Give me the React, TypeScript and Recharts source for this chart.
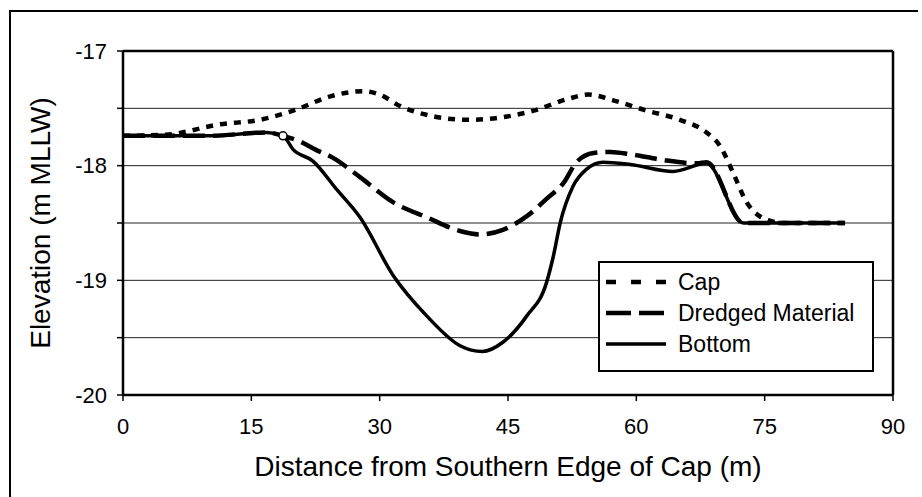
import {
  CartesianGrid,
  Legend,
  Line,
  LineChart,
  ReferenceDot,
  ReferenceLine,
  XAxis,
  YAxis,
} from "recharts";

// distance from southern edge of cap (m)
const capX = [0, 5, 11.3, 16, 19.9, 24.5, 28.1, 30, 32.4, 36.3, 40.2, 44.1, 48, 51.9, 54.4, 57.3, 61.2, 65.1, 68.2, 69.8, 71.3, 72.9, 74.4, 75.6, 77, 84.4];
const capY = [-17.74, -17.73, -17.64, -17.6, -17.52, -17.39, -17.35, -17.38, -17.48, -17.57, -17.6, -17.58, -17.52, -17.42, -17.38, -17.43, -17.52, -17.6, -17.71, -17.83, -18.06, -18.32, -18.44, -18.48, -18.5, -18.5];

const dredgedX = [0, 10, 16.8, 18.7, 20.7, 22.5, 24.5, 27.7, 31.6, 35.5, 39.4, 41.7, 44.4, 47.2, 49.5, 51.5, 53, 55, 57, 59.3, 63.1, 67.1, 68.2, 72.5, 84.4];
const dredgedY = [-17.74, -17.74, -17.71, -17.74, -17.79, -17.86, -17.93, -18.1, -18.32, -18.45, -18.57, -18.6, -18.56, -18.44, -18.29, -18.15, -17.97, -17.89, -17.88, -17.9, -17.95, -17.98, -17.97, -18.5, -18.5];

const bottomX = [0, 10, 16.8, 18.7, 19.9, 22.2, 25, 27.7, 31.6, 35.5, 39.4, 42, 44.4, 47.2, 49.5, 50.3, 51.1, 52.6, 54.2, 56.1, 59.3, 64.3, 68.2, 72.5, 84.4];
const bottomY = [-17.74, -17.74, -17.71, -17.74, -17.86, -17.96, -18.21, -18.45, -18.96, -19.31, -19.57, -19.62, -19.54, -19.31, -19.02, -18.79, -18.5, -18.18, -18.03, -17.97, -17.99, -18.05, -17.98, -18.5, -18.5];

const xTicks = [0, 15, 30, 45, 60, 75, 90];
const yTicks = [-20, -19.5, -19, -18.5, -18, -17.5, -17];

// the little open marker where the dredged line leaves the bottom
const junction = { x: 18.7, y: -17.74 };

const zip = (xs: number[], ys: number[]) => xs.map((x, i) => ({ x, y: ys[i] }));

const series = [
  { name: "Cap", data: zip(capX, capY), dash: "7 7", legendDash: "10 15", width: 4.5 },
  { name: "Dredged Material", data: zip(dredgedX, dredgedY), dash: "22 8", legendDash: "25 8", width: 4.5 },
  { name: "Bottom", data: zip(bottomX, bottomY), dash: undefined, legendDash: undefined, width: 3.5 },
];

const FONT = "'Liberation Sans', Arial, sans-serif";

function LegendBox() {
  return (
    <div
      style={{
        width: 272,
        height: 107,
        border: "2px solid #000",
        background: "#fff",
        fontFamily: FONT,
        fontSize: 23,
        color: "#000",
        boxSizing: "content-box",
      }}
    >
      {series.map((s, i) => (
        <div
          key={s.name}
          style={{
            position: "absolute",
            left: 0,
            top: 9 + i * 31,
            height: 24,
            display: "flex",
            alignItems: "center",
          }}
        >
          <svg width={80} height={10} style={{ display: "block" }}>
            <line
              x1={8}
              x2={68}
              y1={5}
              y2={5}
              stroke="#000"
              strokeWidth={s.width}
              strokeDasharray={s.legendDash}
            />
          </svg>
          <span style={{ lineHeight: "24px" }}>{s.name}</span>
        </div>
      ))}
    </div>
  );
}

export default function App() {
  return (
    <div
      style={{
        position: "absolute",
        left: 0,
        top: 0,
        width: 922,
        height: 497,
        background: "#fff",
        fontFamily: FONT,
      }}
    >
      <div
        style={{
          position: "absolute",
          left: 9,
          top: 10,
          width: 907,
          height: 487,
          borderLeft: "2px solid #000",
          borderTop: "2px solid #000",
        }}
      />
      <LineChart
        width={922}
        height={497}
        margin={{ top: 51, right: 29, bottom: 72, left: 63 }}
        style={{ position: "absolute", left: 0, top: 0 }}
      >
        <CartesianGrid vertical={false} stroke="#222" strokeWidth={1} />
        <XAxis
          type="number"
          dataKey="x"
          domain={[0, 90]}
          ticks={xTicks}
          height={30}
          tickSize={6}
          tickMargin={17}
          axisLine={{ stroke: "#000", strokeWidth: 2.5 }}
          tickLine={{ stroke: "#000", strokeWidth: 1.5 }}
          tick={{ fill: "#000", fontSize: 22, fontFamily: FONT }}
          allowDataOverflow
        />
        <YAxis
          type="number"
          domain={[-20, -17]}
          ticks={yTicks}
          width={60}
          tickSize={6}
          tickMargin={10}
          tickFormatter={(v: number) => (Number.isInteger(v) ? String(v) : "")}
          axisLine={{ stroke: "#000", strokeWidth: 2.5 }}
          tickLine={{ stroke: "#000", strokeWidth: 1.5 }}
          tick={{ fill: "#000", fontSize: 22, fontFamily: FONT }}
          allowDataOverflow
        />
        <ReferenceLine y={-17} stroke="#000" strokeWidth={2.5} />
        <ReferenceLine x={90} stroke="#000" strokeWidth={2.5} />
        {series.map((s) => (
          <Line
            key={s.name}
            data={s.data}
            dataKey="y"
            name={s.name}
            type="monotone"
            stroke="#000"
            strokeWidth={s.width}
            strokeDasharray={s.dash}
            dot={false}
            activeDot={false}
            isAnimationActive={false}
          />
        ))}
        <ReferenceDot
          x={junction.x}
          y={junction.y}
          r={4}
          fill="#fff"
          stroke="#000"
          strokeWidth={1.5}
        />
        <Legend
          layout="vertical"
          align="center"
          verticalAlign="middle"
          wrapperStyle={{ left: 598, top: 261, width: 276, height: 111 }}
          content={() => <LegendBox />}
        />
      </LineChart>
      <div
        style={{
          position: "absolute",
          left: 208,
          width: 600,
          top: 453,
          textAlign: "center",
          fontSize: 28,
          lineHeight: "28px",
          whiteSpace: "nowrap",
        }}
      >
        Distance from Southern Edge of Cap (m)
      </div>
      <div
        style={{
          position: "absolute",
          left: 41 - 150,
          top: 223 - 14,
          width: 300,
          height: 28,
          textAlign: "center",
          fontSize: 28,
          lineHeight: "28px",
          whiteSpace: "nowrap",
          transform: "rotate(-90deg)",
        }}
      >
        Elevation (m MLLW)
      </div>
    </div>
  );
}
